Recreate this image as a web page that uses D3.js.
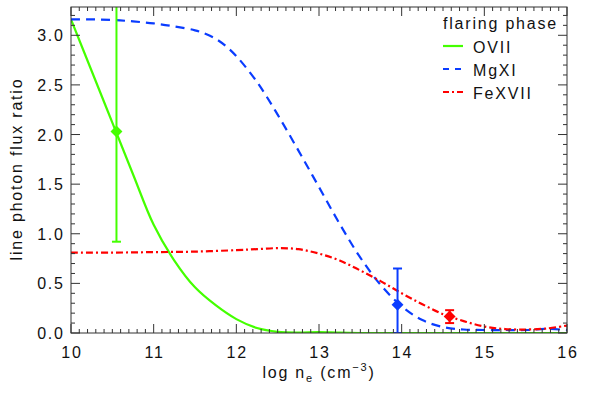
<!DOCTYPE html>
<html><head><meta charset="utf-8">
<script src="https://cdn.jsdelivr.net/npm/d3@7"></script>
<style>body{margin:0;background:#fff}svg{display:block}text{font-family:"Liberation Sans",Arial,sans-serif;fill:#111;letter-spacing:1.8px}</style>
</head><body>
<svg id="c" width="591" height="393"></svg>
<script>
// ---- data ----
const oviiX = [10, 10.25, 10.5, 10.75, 11, 11.25, 11.5, 11.75, 12, 12.25, 12.5, 12.75, 13, 13.25, 13.5, 14, 14.5, 15, 15.5, 16];
const oviiY = [3.16, 2.64, 2.12, 1.60, 1.09, 0.73, 0.46, 0.28, 0.14, 0.05, 0.012, 0.005, 0.01, 0.003, 0, 0, 0, 0, 0, 0];
const mgxiX = [10, 10.25, 10.5, 10.75, 11, 11.25, 11.5, 11.625, 11.75, 11.875, 12, 12.25, 12.5, 12.75, 13, 13.25, 13.5, 13.75, 14, 14.25, 14.5, 14.75, 15, 15.25, 15.5, 15.75, 16];
const mgxiY = [3.16, 3.16, 3.155, 3.14, 3.12, 3.09, 3.05, 3.015, 2.965, 2.89, 2.79, 2.53, 2.20, 1.84, 1.47, 1.10, 0.76, 0.48, 0.27, 0.13, 0.06, 0.035, 0.03, 0.03, 0.03, 0.042, 0.03];
const fexviiX = [10, 10.5, 11, 11.5, 12, 12.25, 12.5, 12.75, 13, 13.25, 13.5, 13.75, 14, 14.25, 14.5, 14.75, 15, 15.25, 15.5, 15.75, 16];
const fexviiY = [0.81, 0.81, 0.815, 0.82, 0.835, 0.845, 0.855, 0.845, 0.80, 0.73, 0.63, 0.52, 0.40, 0.29, 0.19, 0.12, 0.065, 0.04, 0.035, 0.045, 0.075];
const obsX  = [10.55, 13.95, 14.58];
const obsY  = [2.03, 0.285, 0.167];
const obsLo = [0.92, 0.0, 0.10];
const obsHi = [3.6, 0.65, 0.23];
const seriesNames = ["OVII", "MgXI", "FeXVII"];
const xTicks = [10, 11, 12, 13, 14, 15, 16];
const yTicks = [0, 0.5, 1, 1.5, 2, 2.5, 3];

// ---- layout ----
const L = 71, R = 567, T = 7, B = 333;
const LS = 1.8;
const colors = ["#44ff00", "#0a3cff", "#ff0000"];
const dashes = [null, "9,6", "7,3,2,3"];
const x = d3.scaleLinear().domain([10, 16]).range([L, R]);
const y = d3.scaleLinear().domain([0, 3.285]).range([B, T]);
const svg = d3.select("#c");

svg.append("defs").append("clipPath").attr("id", "clip")
  .append("rect").attr("x", L).attr("y", T).attr("width", R - L).attr("height", B - T);

const g = svg.append("g").attr("clip-path", "url(#clip)");
const line = d3.line().x(d => x(d[0])).y(d => y(d[1])).curve(d3.curveCatmullRom.alpha(0.5));
const data = [d3.zip(oviiX, oviiY), d3.zip(mgxiX, mgxiY), d3.zip(fexviiX, fexviiY)];
data.forEach((d, i) => {
  g.append("path").attr("d", line(d)).attr("fill", "none")
    .attr("stroke", colors[i]).attr("stroke-width", 2.2)
    .attr("stroke-dasharray", dashes[i]);
});

// error bars
obsX.forEach((xv, i) => {
  const c = colors[i];
  g.append("line").attr("x1", x(xv)).attr("x2", x(xv)).attr("y1", y(obsLo[i])).attr("y2", y(obsHi[i]))
    .attr("stroke", c).attr("stroke-width", 2);
  [obsLo[i], obsHi[i]].forEach(v => {
    g.append("line").attr("x1", x(xv) - 4.5).attr("x2", x(xv) + 4.5).attr("y1", y(v)).attr("y2", y(v))
      .attr("stroke", c).attr("stroke-width", 2);
  });
  g.append("path").attr("d", d3.symbol(d3.symbolDiamond2, 90)())
    .attr("transform", `translate(${x(xv)},${y(obsY[i])})`).attr("fill", c);
});

// axes frame & ticks
const ax = svg.append("g").attr("stroke", "#333").attr("stroke-width", 1);
ax.append("rect").attr("x", L).attr("y", T).attr("width", R - L).attr("height", B - T).attr("fill", "none");
const xMinor = d3.range(0, 61).map(i => 10 + i * 0.1);
xMinor.forEach(v => {
  const major = Math.abs(v - Math.round(v)) < 1e-6;
  const len = major ? 9 : 4;
  ax.append("line").attr("x1", x(v)).attr("x2", x(v)).attr("y1", B).attr("y2", B - len);
  ax.append("line").attr("x1", x(v)).attr("x2", x(v)).attr("y1", T).attr("y2", T + len);
});
const yMinor = d3.range(0, 33).map(i => i * 0.1);
yMinor.forEach(v => {
  const major = Math.abs(v * 2 - Math.round(v * 2)) < 1e-6;
  const len = major ? 9 : 4;
  ax.append("line").attr("y1", y(v)).attr("y2", y(v)).attr("x1", L).attr("x2", L + len);
  ax.append("line").attr("y1", y(v)).attr("y2", y(v)).attr("x1", R).attr("x2", R - len);
});

// tick labels
svg.selectAll(".xt").data(xTicks).enter().append("text")
  .attr("x", d => x(d) + LS / 2).attr("y", 358).attr("text-anchor", "middle")
  .attr("font-size", 16).text(d => d);
svg.selectAll(".yt").data(yTicks).enter().append("text")
  .attr("x", 63 + LS).attr("y", d => y(d) + 6).attr("text-anchor", "end")
  .attr("font-size", 16).text(d => d3.format(".1f")(d));

// axis titles
const xt = svg.append("text").attr("x", 319).attr("y", 378).attr("text-anchor", "middle").attr("font-size", 16);
xt.append("tspan").text("log n");
xt.append("tspan").attr("font-size", 11).attr("dy", 4).text("e");
xt.append("tspan").attr("dy", -4).text(" (cm");
xt.append("tspan").attr("font-size", 11).attr("dy", -7).text("−3");
xt.append("tspan").attr("dy", 7).text(")");
svg.append("text").attr("transform", "translate(22,169) rotate(-90)").attr("text-anchor", "middle")
  .attr("font-size", 16).text("line photon flux ratio");

// legend
svg.append("text").attr("x", 443).attr("y", 29).attr("font-size", 16).text("flaring phase");
seriesNames.forEach((n, i) => {
  const ly = 46 + i * 23;
  svg.append("line").attr("x1", 443).attr("x2", 463).attr("y1", ly).attr("y2", ly)
    .attr("stroke", colors[i]).attr("stroke-width", 2.2).attr("stroke-dasharray", i === 1 ? "6,6" : (i === 2 ? "6,3,2,3" : null));
  svg.append("text").attr("x", 473).attr("y", ly + 7).attr("font-size", 16).text(n);
});
</script>
</body></html>
